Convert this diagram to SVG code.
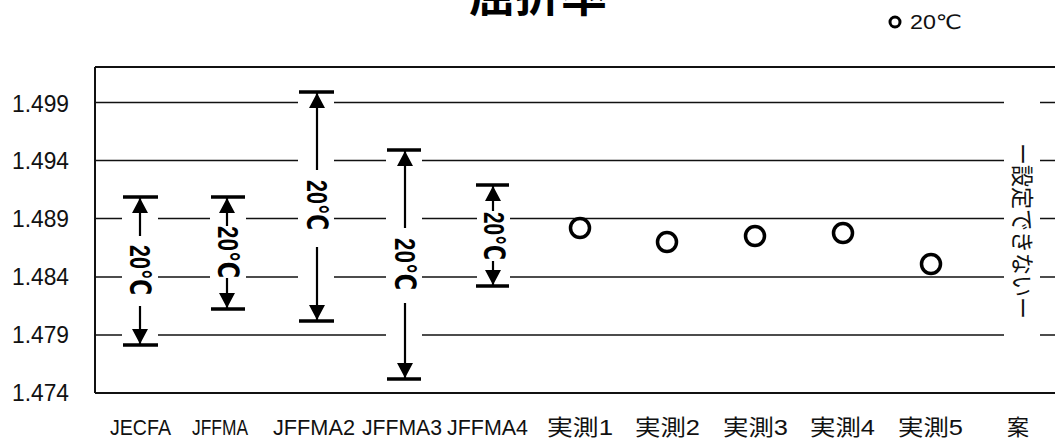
<svg xmlns="http://www.w3.org/2000/svg" width="1055" height="445" viewBox="0 0 1055 445">
<style>
.lbl{font-family:"Liberation Sans","Noto Sans CJK JP",sans-serif;font-size:22px;fill:#111}
.ylbl{font-family:"Liberation Sans",sans-serif;font-size:24px;fill:#111;text-anchor:end}
.grid{stroke:#111;stroke-width:1.5;fill:none}
.frame{stroke:#111;stroke-width:2;fill:none}
.cap{stroke:#000;stroke-width:3.5}
.shaft{stroke:#000;stroke-width:2.2;marker-end:url(#ah)}
.btxt{font-family:"Liberation Sans","DejaVu Sans",sans-serif;font-size:29px;font-weight:bold;fill:#000;text-anchor:middle;dominant-baseline:central}
.gap{fill:#fff;stroke:none}
.pt{fill:none;stroke:#000;stroke-width:3.5}
</style>
<defs>
<marker id="ah" viewBox="0 0 15 16" refX="15" refY="8" markerWidth="15" markerHeight="16" markerUnits="userSpaceOnUse" orient="auto">
<path d="M0,0 L15,8 L0,16 z" fill="#000"/>
</marker>
</defs>
<rect width="1055" height="445" fill="#fff"/>
<g id="title">
<text x="538" y="11" text-anchor="middle" font-family="'Noto Sans CJK JP',sans-serif" font-weight="bold" font-size="46" fill="#000">屈折率</text>
</g>
<g id="legend">
<circle cx="895" cy="22" r="5" fill="none" stroke="#000" stroke-width="3"/>
<text x="910" y="29" font-family="'Liberation Sans','DejaVu Sans',sans-serif" font-size="20" textLength="52" lengthAdjust="spacingAndGlyphs" fill="#111">20℃</text>
</g>
<g id="axes">
<line class="frame" x1="95" y1="67" x2="1055" y2="67"/>
<line class="frame" x1="95" y1="393" x2="1055" y2="393"/>
<line class="frame" x1="95" y1="67" x2="95" y2="393"/>
<line class="grid" x1="95" y1="102.5" x2="1055" y2="102.5"/>
<line class="grid" x1="95" y1="160.5" x2="1055" y2="160.5"/>
<line class="grid" x1="95" y1="218.5" x2="1055" y2="218.5"/>
<line class="grid" x1="95" y1="277" x2="1055" y2="277"/>
<line class="grid" x1="95" y1="335" x2="1055" y2="335"/>
<text class="ylbl" x="69" y="112" textLength="57" lengthAdjust="spacingAndGlyphs">1.499</text>
<text class="ylbl" x="69" y="169" textLength="57" lengthAdjust="spacingAndGlyphs">1.494</text>
<text class="ylbl" x="69" y="227" textLength="57" lengthAdjust="spacingAndGlyphs">1.489</text>
<text class="ylbl" x="69" y="285" textLength="57" lengthAdjust="spacingAndGlyphs">1.484</text>
<text class="ylbl" x="69" y="343" textLength="57" lengthAdjust="spacingAndGlyphs">1.479</text>
<text class="ylbl" x="69" y="401" textLength="57" lengthAdjust="spacingAndGlyphs">1.474</text>
</g>
<g id="xlabels">
<text class="lbl" x="110" y="435" textLength="61" lengthAdjust="spacingAndGlyphs">JECFA</text>
<text class="lbl" x="192" y="435" textLength="56" lengthAdjust="spacingAndGlyphs">JFFMA</text>
<text class="lbl" x="273" y="435" textLength="82" lengthAdjust="spacingAndGlyphs">JFFMA2</text>
<text class="lbl" x="362" y="435" textLength="80" lengthAdjust="spacingAndGlyphs">JFFMA3</text>
<text class="lbl" x="447" y="435" textLength="81" lengthAdjust="spacingAndGlyphs">JFFMA4</text>
<text class="lbl" x="547" y="435" textLength="66" lengthAdjust="spacingAndGlyphs">実測1</text>
<text class="lbl" x="635" y="435" textLength="65" lengthAdjust="spacingAndGlyphs">実測2</text>
<text class="lbl" x="723" y="435" textLength="65" lengthAdjust="spacingAndGlyphs">実測3</text>
<text class="lbl" x="810" y="435" textLength="65" lengthAdjust="spacingAndGlyphs">実測4</text>
<text class="lbl" x="898" y="435" textLength="65" lengthAdjust="spacingAndGlyphs">実測5</text>
<text class="lbl" x="1007" y="435" font-size="23">案</text>
</g>
<g id="connectors">
<g id="bar-jecfa">
<rect class="gap" x="122" y="196" width="36" height="150"/>
<line class="cap" x1="123" y1="197" x2="158" y2="197"/>
<line class="cap" x1="123" y1="345" x2="158" y2="345"/>
<line class="shaft" x1="140" y1="236" x2="140" y2="198"/>
<line class="shaft" x1="140" y1="306" x2="140" y2="344"/>
<text class="btxt" transform="translate(140,270) rotate(90)" textLength="50" lengthAdjust="spacingAndGlyphs">20℃</text>
</g>
<g id="bar-jffma">
<rect class="gap" x="210" y="196" width="36" height="114"/>
<line class="cap" x1="211" y1="197" x2="245" y2="197"/>
<line class="cap" x1="211" y1="309" x2="245" y2="309"/>
<line class="shaft" x1="227" y1="226" x2="227" y2="198"/>
<line class="shaft" x1="227" y1="278" x2="227" y2="308"/>
<text class="btxt" transform="translate(228,252) rotate(90)" textLength="52" lengthAdjust="spacingAndGlyphs">20℃</text>
</g>
<g id="bar-jffma2">
<rect class="gap" x="298" y="91" width="36" height="231"/>
<line class="cap" x1="299" y1="92" x2="334" y2="92"/>
<line class="cap" x1="299" y1="321" x2="334" y2="321"/>
<line class="shaft" x1="317" y1="170" x2="317" y2="93"/>
<line class="shaft" x1="317" y1="247" x2="317" y2="320"/>
<text class="btxt" transform="translate(317,205) rotate(90)" textLength="50" lengthAdjust="spacingAndGlyphs">20℃</text>
</g>
<g id="bar-jffma3">
<rect class="gap" x="386" y="149" width="36" height="231"/>
<line class="cap" x1="387" y1="150" x2="421" y2="150"/>
<line class="cap" x1="387" y1="379" x2="421" y2="379"/>
<line class="shaft" x1="405" y1="228" x2="405" y2="151"/>
<line class="shaft" x1="405" y1="303" x2="405" y2="378"/>
<text class="btxt" transform="translate(405,264) rotate(90)" textLength="52" lengthAdjust="spacingAndGlyphs">20℃</text>
</g>
<g id="bar-jffma4">
<rect class="gap" x="477" y="184" width="33" height="103"/>
<line class="cap" x1="476" y1="185" x2="509" y2="185"/>
<line class="cap" x1="476" y1="286" x2="509" y2="286"/>
<line class="shaft" x1="493" y1="211" x2="493" y2="186"/>
<line class="shaft" x1="493" y1="261" x2="493" y2="285"/>
<text class="btxt" transform="translate(494,236) rotate(90)" textLength="48" lengthAdjust="spacingAndGlyphs">20℃</text>
</g>
</g>
<g id="points">
<circle id="pt-1" class="pt" cx="580" cy="228" r="9.5"/>
<circle id="pt-2" class="pt" cx="667" cy="242" r="9.5"/>
<circle id="pt-3" class="pt" cx="755" cy="236" r="9.5"/>
<circle id="pt-4" class="pt" cx="843" cy="233" r="9.5"/>
<circle id="pt-5" class="pt" cx="931" cy="264" r="9.5"/>
</g>
<g id="note-an">
<rect class="gap" x="1004" y="80" width="36" height="300"/>
<text transform="translate(1024,231) rotate(90)" text-anchor="middle" dominant-baseline="central" font-family="'Noto Sans CJK JP',sans-serif" font-size="23" fill="#111" textLength="176" lengthAdjust="spacingAndGlyphs">ー設定できないー</text>
</g>
</svg>
